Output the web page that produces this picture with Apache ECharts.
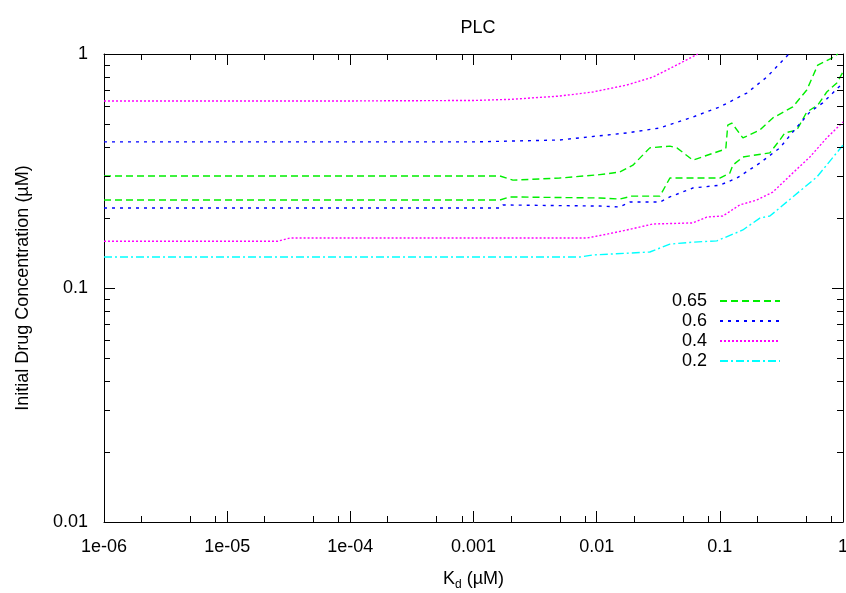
<!DOCTYPE html>
<html>
<head>
<meta charset="utf-8">
<script src="https://cdn.jsdelivr.net/npm/echarts@6/dist/echarts.min.js"></script>
<style>
  html, body { margin: 0; padding: 0; background: #fff; }
  #chart { width: 846px; height: 593px; }
</style>
</head>
<body>
<div id="chart"></div>
<script>
// contour levels, legend order
const levels = ['0.65', '0.6', '0.4', '0.2']

// tick labels
const xTickLabels = ['1e-06', '1e-05', '1e-04', '0.001', '0.01', '0.1', '1']
const yTickLabels = ['0.01', '0.1', '1']
const xDecades = [1e-6, 1e-5, 1e-4, 1e-3, 1e-2, 1e-1]
const yDecades = [0.01, 0.1]
const xMinorMantissa = [2, 5, 8]
const yMinorMantissa = [2, 3, 4, 5, 6, 7, 8, 9]

// [Kd, concentration] points
const level065Upper = [
  [1e-6, 0.301], [1.64e-3, 0.301], [2.09e-3, 0.289], [5e-3, 0.295], [0.0106, 0.305],
  [0.0154, 0.313], [0.0197, 0.335], [0.027, 0.397], [0.0393, 0.404], [0.0448, 0.397],
  [0.0604, 0.352], [0.1057, 0.389], [0.112, 0.397], [0.116, 0.497], [0.125, 0.507],
  [0.1538, 0.438], [0.2113, 0.473], [0.2693, 0.533], [0.391, 0.594], [0.508, 0.702],
  [0.624, 0.897], [0.811, 0.961], [0.907, 1.0]
]
const level065Lower = [
  [1e-6, 0.2377], [1.64e-3, 0.2377], [1.97e-3, 0.245], [0.0106, 0.2425], [0.0154, 0.240],
  [0.0193, 0.247], [0.0326, 0.247], [0.0393, 0.295], [0.1, 0.295], [0.1206, 0.310],
  [0.1275, 0.335], [0.1538, 0.363], [0.2548, 0.378], [0.307, 0.429], [0.337, 0.460],
  [0.422, 0.473], [0.508, 0.565], [0.624, 0.605], [0.738, 0.688], [0.891, 0.752], [1, 0.838]
]
const level06Upper = [
  [1e-6, 0.421], [1e-3, 0.421], [5e-3, 0.429], [0.0176, 0.460], [0.0326, 0.483],
  [0.0604, 0.538], [0.1, 0.594], [0.1656, 0.681], [0.241, 0.797], [0.357, 0.99], [0.37, 1.0]
]
const level06Lower = [
  [1e-6, 0.2198], [1.64e-3, 0.2198], [1.73e-3, 0.2264], [0.0106, 0.224], [0.0154, 0.222],
  [0.0186, 0.233], [0.0326, 0.233], [0.0393, 0.245], [0.0604, 0.2675], [0.1, 0.275],
  [0.1375, 0.295], [0.2113, 0.342], [0.307, 0.397], [0.391, 0.464], [0.538, 0.565],
  [0.685, 0.618], [0.826, 0.681], [1, 0.752]
]
const level04Upper = [
  [1e-6, 0.630], [1e-4, 0.630], [1e-3, 0.633], [2e-3, 0.640], [5e-3, 0.661],
  [9.3e-3, 0.688], [0.0176, 0.737], [0.0286, 0.797], [0.0416, 0.880], [0.0663, 1.0]
]
const level04Lower = [
  [1e-6, 0.1585], [2.58e-5, 0.1585], [3.24e-5, 0.1636], [8.3e-3, 0.1636], [0.0112, 0.1684],
  [0.0176, 0.177], [0.0286, 0.1877], [0.0604, 0.1897], [0.0784, 0.201], [0.1057, 0.203],
  [0.145, 0.2264], [0.1997, 0.2377], [0.2693, 0.257], [0.391, 0.310], [0.538, 0.363],
  [0.738, 0.438], [1, 0.512]
]
const level02 = [
  [1e-6, 0.1356], [7.3e-3, 0.1356], [9.3e-3, 0.1384], [0.027, 0.1425], [0.0393, 0.154],
  [0.0604, 0.157], [0.0946, 0.159], [0.1538, 0.177], [0.2113, 0.199], [0.2548, 0.203],
  [0.391, 0.245], [0.613, 0.298], [1, 0.408]
]

const font = 'Liberation Sans, Arial, Helvetica, sans-serif'
const lineTypes = {
  '0.65': { color: '#00ee00', type: [7, 4] },
  '0.6': { color: '#0000ff', type: [3, 5] },
  '0.4': { color: '#ff00ff', type: [2, 2] },
  '0.2': { color: '#00ffff', type: [8, 3, 2, 3] }
}

const contour = (name, data) => ({
  name,
  type: 'line',
  data,
  symbol: 'none',
  color: lineTypes[name].color,
  lineStyle: { width: 1.4, color: lineTypes[name].color, type: lineTypes[name].type },
  z: 3
})

const xMinorTicks = []
xDecades.forEach(d => xMinorMantissa.forEach(m => xMinorTicks.push(d * m)))
const yMinorTicks = []
yDecades.forEach(d => yMinorMantissa.forEach(m => yMinorTicks.push(d * m)))

const MINOR_LEN = 6
const minorTicks = which => ({
  type: 'custom',
  name: 'minor-' + which,
  silent: true,
  clip: false,
  z: 4,
  data: which === 'x' ? xMinorTicks.map(v => [v, 1]) : yMinorTicks.map(v => [1, v]),
  renderItem: (params, api) => {
    const cs = params.coordSys
    const style = { stroke: '#000', lineWidth: 1 }
    if (which === 'x') {
      const x = Math.round(api.coord([api.value(0), 1])[0]) + 0.5
      const yb = cs.y + cs.height
      return {
        type: 'group',
        children: [
          { type: 'line', shape: { x1: x, y1: yb, x2: x, y2: yb - MINOR_LEN }, style },
          { type: 'line', shape: { x1: x, y1: cs.y, x2: x, y2: cs.y + MINOR_LEN }, style }
        ]
      }
    }
    const y = Math.round(api.coord([1, api.value(1)])[1]) + 0.5
    const xr = cs.x + cs.width
    return {
      type: 'group',
      children: [
        { type: 'line', shape: { x1: cs.x, y1: y, x2: cs.x + MINOR_LEN, y2: y }, style },
        { type: 'line', shape: { x1: xr, y1: y, x2: xr - MINOR_LEN, y2: y }, style }
      ]
    }
  }
})

const axisLine = { show: true, onZero: false, lineStyle: { color: '#000', width: 1 } }
const majorTick = { show: true, inside: true, length: 11, lineStyle: { color: '#000', width: 1 } }
const labelStyle = { color: '#000', fontSize: 18, fontFamily: font }

const option = {
  animation: false,
  backgroundColor: '#fff',
  title: {
    text: 'PLC',
    left: 473,
    textAlign: 'center',
    top: 14,
    textStyle: { color: '#000', fontSize: 18, fontWeight: 'normal', fontFamily: font }
  },
  grid: { left: 104, right: 3, top: 54, bottom: 71, containLabel: false, outerBoundsMode: 'none' },
  legend: {
    data: levels,
    orient: 'vertical',
    align: 'right',
    right: 60,
    top: 287,
    itemWidth: 60,
    itemHeight: 16,
    itemGap: 2,
    itemStyle: { opacity: 0 },
    textStyle: { color: '#000', fontSize: 18, fontFamily: font, lineHeight: 16, padding: [0, 8, 0, 0] }
  },
  xAxis: [
    {
      type: 'log',
      min: 1e-6,
      max: 1,
      splitNumber: 6,
      position: 'bottom',
      axisLine,
      axisTick: majorTick,
      splitLine: { show: false },
      axisLabel: {
        ...labelStyle,
        margin: 16,
        showMinLabel: true,
        showMaxLabel: true,
        hideOverlap: false,
        formatter: v => xTickLabels[Math.round(Math.log10(v)) + 6]
      },
      name: '{k|K}{d|d}{k| (µM)}',
      nameLocation: 'middle',
      nameGap: 45,
      nameTextStyle: {
        rich: {
          k: { fontSize: 18, fontFamily: font, color: '#000', lineHeight: 24, verticalAlign: 'middle' },
          d: { fontSize: 12, fontFamily: font, color: '#000', lineHeight: 12, verticalAlign: 'bottom' }
        }
      }
    },
    {
      type: 'log',
      min: 1e-6,
      max: 1,
      splitNumber: 6,
      position: 'top',
      axisLine,
      axisTick: majorTick,
      splitLine: { show: false },
      axisLabel: { show: false }
    }
  ],
  yAxis: [
    {
      type: 'log',
      min: 0.01,
      max: 1,
      splitNumber: 2,
      position: 'left',
      axisLine,
      axisTick: majorTick,
      splitLine: { show: false },
      axisLabel: {
        ...labelStyle,
        margin: 16,
        showMinLabel: true,
        showMaxLabel: true,
        formatter: v => yTickLabels[Math.round(Math.log10(v)) + 2]
      },
      name: 'Initial Drug Concentration (µM)',
      nameLocation: 'middle',
      nameGap: 72,
      nameTextStyle: { color: '#000', fontSize: 18, fontFamily: font }
    },
    {
      type: 'log',
      min: 0.01,
      max: 1,
      splitNumber: 2,
      position: 'right',
      axisLine,
      axisTick: majorTick,
      splitLine: { show: false },
      axisLabel: { show: false }
    }
  ],
  series: [
    contour('0.65', level065Upper),
    contour('0.65', level065Lower),
    contour('0.6', level06Upper),
    contour('0.6', level06Lower),
    contour('0.4', level04Upper),
    contour('0.4', level04Lower),
    contour('0.2', level02),
    minorTicks('x'),
    minorTicks('y')
  ]
}

const chart = echarts.init(document.getElementById('chart'))
chart.setOption(option)
</script>
</body>
</html>
